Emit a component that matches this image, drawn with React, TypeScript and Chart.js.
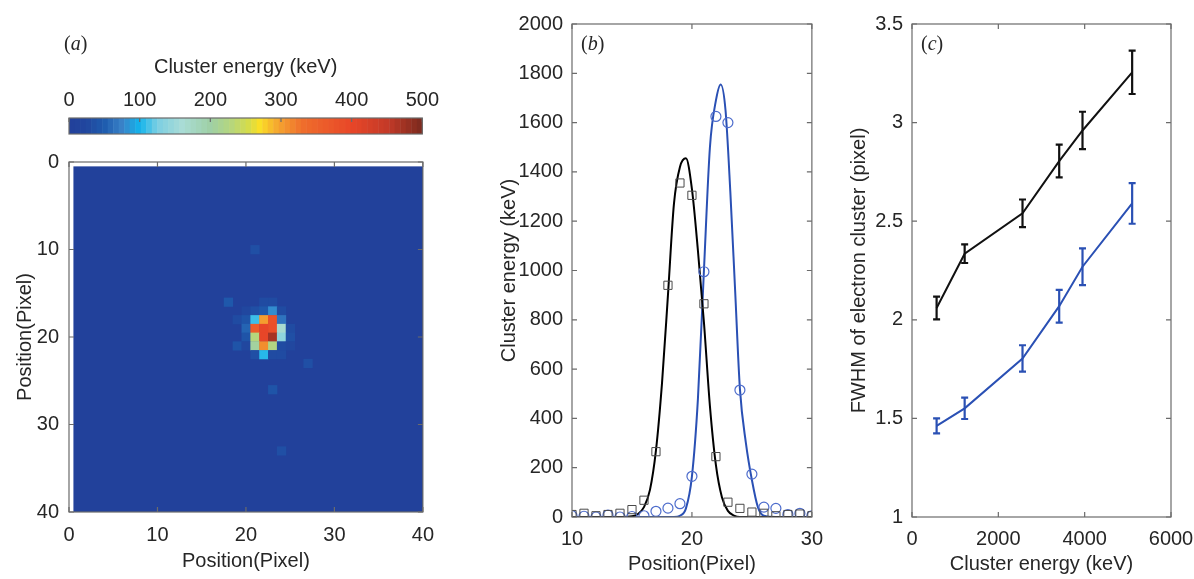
import React, { useEffect, useRef } from "react";
import { Chart, registerables } from "chart.js";
Chart.register(...registerables);

// ---------------- Panel (a): heat map ----------------
const HEAT_SIZE = 40;
const HEAT_BACKGROUND = 3;
const heatTicks = [0, 10, 20, 30, 40];
const cellCols = [21, 18, 22, 23, 20, 21, 22, 23, 24, 19, 20, 21, 22, 23, 24, 20, 21, 22, 23, 24, 25, 20, 21, 22, 23, 24, 25, 19, 20, 21, 22, 23, 24, 25, 21, 22, 23, 24, 27, 23, 24];
const cellRows = [10, 16, 16, 16, 17, 17, 17, 17, 17, 18, 18, 18, 18, 18, 18, 19, 19, 19, 19, 19, 19, 20, 20, 20, 20, 20, 20, 21, 21, 21, 21, 21, 21, 21, 22, 22, 22, 22, 23, 26, 33];
const cellValues = [35, 45, 30, 30, 25, 35, 45, 80, 30, 30, 40, 110, 300, 380, 65, 55, 360, 400, 385, 165, 30, 40, 230, 400, 470, 140, 35, 40, 25, 205, 310, 225, 30, 25, 35, 105, 30, 30, 35, 40, 35];

// colour map (value -> colour)
const cmapValues = [0, 25, 50, 75, 100, 125, 160, 200, 230, 255, 270, 295, 330, 400, 450, 500];
const cmapColors = ["#22409a", "#21479f", "#1e5cae", "#3a82c8", "#12b4ec", "#7ccfe2", "#a9dcd6", "#9fd0a6", "#b6d67c", "#d6dc48", "#fadf26", "#f5a630", "#ef6e2c", "#e84628", "#c43a28", "#7a2a1e"];
const colorbarTicks = [0, 100, 200, 300, 400, 500];
const COLORBAR_STEPS = 64;

// ---------------- Panel (b): profiles ----------------
const positions = [10, 11, 12, 13, 14, 15, 16, 17, 18, 19, 20, 21, 22, 23, 24, 25, 26, 27, 28, 29, 30];
const blackSquares = [10, 15, 5, 10, 15, 30, 68, 265, 940, 1355, 1305, 865, 245, 60, 35, 20, 15, 5, 10, 12, 5];
const blueCircles = [5, 3, 0, 8, 0, 2, 5, 23, 36, 54, 165, 995, 1625, 1600, 515, 174, 40, 35, 10, 15, 5];
const blackFitX = [10, 14, 15, 15.5, 16, 16.5, 17, 17.5, 18, 18.5, 19, 19.5, 20, 20.5, 21, 21.5, 22, 22.5, 23, 23.5, 24, 25, 30];
const blackFitY = [0, 0, 3, 12, 40, 110, 270, 540, 900, 1270, 1420, 1455, 1330, 1080, 790, 450, 210, 80, 25, 6, 0, 0, 0];
const blueFitX = [10, 18.5, 19, 19.5, 20, 20.5, 21, 21.5, 22, 22.4, 22.8, 23.2, 23.6, 24, 24.5, 25, 25.5, 26, 27, 30];
const blueFitY = [0, 0, 5, 35, 165, 480, 1000, 1500, 1690, 1755, 1650, 1320, 920, 520, 300, 150, 40, 5, 0, 0];

// ---------------- Panel (c): FWHM ----------------
const energies = [570, 1220, 2560, 3410, 3950, 5100];
const fwhmBlack = [2.06, 2.335, 2.54, 2.805, 2.96, 3.255];
const errBlack = [0.058, 0.047, 0.07, 0.083, 0.095, 0.11];
const fwhmBlue = [1.462, 1.551, 1.804, 2.069, 2.269, 2.59];
const errBlue = [0.038, 0.054, 0.067, 0.083, 0.093, 0.103];

const TEXT = "#262626";
const BOX = "#6b6b6b";
const BLUE = "#2a50b4";
const FONT = "'Liberation Sans', Arial, sans-serif";

function hexToRgb(h: string): number[] {
  const n = parseInt(h.slice(1), 16);
  return [(n >> 16) & 255, (n >> 8) & 255, n & 255];
}
function colormap(v: number): string {
  const t = Math.max(cmapValues[0], Math.min(cmapValues[cmapValues.length - 1], v));
  for (let i = 0; i < cmapValues.length - 1; i++) {
    if (t <= cmapValues[i + 1]) {
      const f = (t - cmapValues[i]) / (cmapValues[i + 1] - cmapValues[i]);
      const a = hexToRgb(cmapColors[i]);
      const b = hexToRgb(cmapColors[i + 1]);
      const c = a.map((av, k) => Math.round(av + (b[k] - av) * f));
      return `rgb(${c[0]},${c[1]},${c[2]})`;
    }
  }
  return cmapColors[cmapColors.length - 1];
}

function boxPlugin(sides: { top?: boolean; bottom?: boolean; left?: boolean; right?: boolean }, tickLen = 5) {
  return {
    id: "mbox",
    afterDraw(chart: any) {
      const { ctx, chartArea: a, scales } = chart;
      ctx.save();
      ctx.strokeStyle = BOX;
      ctx.lineWidth = 1.2;
      ctx.strokeRect(a.left, a.top, a.right - a.left, a.bottom - a.top);
      ctx.beginPath();
      const xs = scales.x;
      if (xs && xs.options.display !== false) {
        xs.ticks.forEach((t: any) => {
          const px = xs.getPixelForValue(t.value);
          if (sides.bottom) { ctx.moveTo(px, a.bottom); ctx.lineTo(px, a.bottom - tickLen); }
          if (sides.top) { ctx.moveTo(px, a.top); ctx.lineTo(px, a.top + tickLen); }
        });
      }
      const ys = scales.y;
      if (ys && ys.options.display !== false) {
        ys.ticks.forEach((t: any) => {
          const py = ys.getPixelForValue(t.value);
          if (sides.left) { ctx.moveTo(a.left, py); ctx.lineTo(a.left + tickLen, py); }
          if (sides.right) { ctx.moveTo(a.right, py); ctx.lineTo(a.right - tickLen, py); }
        });
      }
      ctx.stroke();
      ctx.restore();
    },
  };
}

const heatmapPlugin = {
  id: "heatmap",
  beforeDatasetsDraw(chart: any) {
    const { ctx, chartArea: a, scales } = chart;
    const x = scales.x, y = scales.y;
    ctx.save();
    ctx.beginPath();
    ctx.rect(a.left, a.top, a.right - a.left, a.bottom - a.top);
    ctx.clip();
    const cell = (x0: number, x1: number, y0: number, y1: number, color: string) => {
      const px0 = x.getPixelForValue(x0), px1 = x.getPixelForValue(x1);
      const py0 = y.getPixelForValue(y0), py1 = y.getPixelForValue(y1);
      ctx.fillStyle = color;
      ctx.fillRect(Math.min(px0, px1), Math.min(py0, py1), Math.abs(px1 - px0) + 0.4, Math.abs(py1 - py0) + 0.4);
    };
    cell(0.5, HEAT_SIZE + 0.5, 0.5, HEAT_SIZE + 0.5, colormap(HEAT_BACKGROUND));
    for (let i = 0; i < cellValues.length; i++) {
      cell(cellCols[i] - 0.5, cellCols[i] + 0.5, cellRows[i] - 0.5, cellRows[i] + 0.5, colormap(cellValues[i]));
    }
    ctx.restore();
  },
};

const colorbarPlugin = {
  id: "colorbar",
  beforeDatasetsDraw(chart: any) {
    const { ctx, chartArea: a, scales } = chart;
    const x = scales.x;
    const lo = colorbarTicks[0], hi = colorbarTicks[colorbarTicks.length - 1];
    const step = (hi - lo) / COLORBAR_STEPS;
    ctx.save();
    for (let i = 0; i < COLORBAR_STEPS; i++) {
      const v0 = lo + i * step;
      const p0 = x.getPixelForValue(v0), p1 = x.getPixelForValue(v0 + step);
      ctx.fillStyle = colormap(v0 + step / 2);
      ctx.fillRect(p0, a.top, p1 - p0 + 0.5, a.bottom - a.top);
    }
    ctx.restore();
  },
};

function errorBarPlugin(errs: number[][]) {
  return {
    id: "errorbars",
    afterDatasetsDraw(chart: any) {
      const { ctx, scales } = chart;
      const x = scales.x, y = scales.y;
      chart.data.datasets.forEach((ds: any, i: number) => {
        const e = errs[i];
        if (!e) return;
        ctx.save();
        ctx.strokeStyle = ds.borderColor;
        ctx.lineWidth = 2.2;
        ctx.beginPath();
        ds.data.forEach((p: any, j: number) => {
          const px = x.getPixelForValue(p.x);
          const top = y.getPixelForValue(p.y + e[j]);
          const bot = y.getPixelForValue(p.y - e[j]);
          ctx.moveTo(px, top); ctx.lineTo(px, bot);
          ctx.moveTo(px - 3.5, top); ctx.lineTo(px + 3.5, top);
          ctx.moveTo(px - 3.5, bot); ctx.lineTo(px + 3.5, bot);
        });
        ctx.stroke();
        ctx.restore();
      });
    },
  };
}

const tickFont = { family: FONT, size: 20 };
const titleFont = { family: FONT, size: 20 };
const fmt = (v: any) => String(v);

function baseScale(extra: any) {
  return {
    type: "linear",
    grid: { display: false, drawTicks: false },
    border: { display: false },
    ...extra,
    ticks: { color: TEXT, font: tickFont, callback: fmt, ...(extra.ticks || {}) },
    title: { color: TEXT, font: titleFont, display: true, ...(extra.title || {}) },
  };
}

const commonPlugins = { legend: { display: false }, tooltip: { enabled: false } };

export default function App() {
  const refCb = useRef<HTMLCanvasElement>(null);
  const refA = useRef<HTMLCanvasElement>(null);
  const refB = useRef<HTMLCanvasElement>(null);
  const refC = useRef<HTMLCanvasElement>(null);

  useEffect(() => {
    document.body.style.margin = "0";
    const charts: Chart[] = [];

    // colour bar
    charts.push(new Chart(refCb.current!, {
      type: "scatter",
      data: { datasets: [] },
      options: {
        responsive: false, animation: false,
        layout: { padding: { left: 69, right: 22, top: 15, bottom: 6 } },
        plugins: commonPlugins,
        scales: {
          x: baseScale({
            position: "top", min: 0, max: 500,
            ticks: { stepSize: 100, padding: 6 },
            title: { text: "Cluster energy (keV)", padding: { top: 0, bottom: 6 } },
            afterFit: (s: any) => { s.height = 63; },
          }),
          y: { type: "linear", display: false, min: 0, max: 1 },
        },
      } as any,
      plugins: [colorbarPlugin, boxPlugin({ top: true }, 4)],
    }));

    // heat map
    charts.push(new Chart(refA.current!, {
      type: "scatter",
      data: { datasets: [] },
      options: {
        responsive: false, animation: false,
        layout: { padding: { left: 0, right: 22, top: 15, bottom: 0 } },
        plugins: commonPlugins,
        scales: {
          x: baseScale({
            min: heatTicks[0], max: heatTicks[heatTicks.length - 1],
            ticks: { stepSize: 10, padding: 11 },
            title: { text: "Position(Pixel)", padding: { top: 4, bottom: 6 } },
            afterFit: (s: any) => { s.height = 67; },
          }),
          y: baseScale({
            min: heatTicks[0], max: heatTicks[heatTicks.length - 1], reverse: true,
            ticks: { stepSize: 10, padding: 10 },
            title: { text: "Position(Pixel)", padding: { top: 13, bottom: 4 } },
            afterFit: (s: any) => { s.width = 69; },
          }),
        },
      } as any,
      plugins: [heatmapPlugin, boxPlugin({ top: true, bottom: true, left: true, right: true })],
    }));

    // profiles
    const pts = (xs: number[], ys: number[]) => xs.map((x, i) => ({ x, y: ys[i] }));
    charts.push(new Chart(refB.current!, {
      type: "scatter",
      data: {
        datasets: [
          { data: pts(positions, blackSquares), pointStyle: "rect", radius: 5.8, borderColor: "#4a4a4a", backgroundColor: "rgba(0,0,0,0)", borderWidth: 1, order: 0 },
          { data: pts(positions, blueCircles), pointStyle: "circle", radius: 5, borderColor: "#4d6ccc", backgroundColor: "rgba(0,0,0,0)", borderWidth: 1.2, order: 0 },
          { data: pts(blackFitX, blackFitY), showLine: true, pointRadius: 0, borderColor: "#000000", borderWidth: 2, cubicInterpolationMode: "monotone", order: 1 },
          { data: pts(blueFitX, blueFitY), showLine: true, pointRadius: 0, borderColor: BLUE, borderWidth: 2, cubicInterpolationMode: "monotone", order: 1 },
        ],
      },
      options: {
        responsive: false, animation: false,
        layout: { padding: { left: 0, right: 20, top: 24, bottom: 0 } },
        plugins: commonPlugins,
        scales: {
          x: baseScale({
            min: 10, max: 30,
            ticks: { stepSize: 10, padding: 10 },
            title: { text: "Position(Pixel)", padding: { top: 4, bottom: 3 } },
            afterFit: (s: any) => { s.height = 62; },
          }),
          y: baseScale({
            min: 0, max: 2000,
            ticks: { stepSize: 200, padding: 9 },
            title: { text: "Cluster energy (keV)", padding: { top: 4, bottom: 4 } },
            afterFit: (s: any) => { s.width = 79; },
          }),
        },
      } as any,
      plugins: [boxPlugin({ top: true, bottom: true, left: true, right: true })],
    }));

    // FWHM
    charts.push(new Chart(refC.current!, {
      type: "scatter",
      data: {
        datasets: [
          { data: pts(energies, fwhmBlack), showLine: true, pointRadius: 0, borderColor: "#111111", borderWidth: 2, tension: 0 },
          { data: pts(energies, fwhmBlue), showLine: true, pointRadius: 0, borderColor: BLUE, borderWidth: 2, tension: 0 },
        ],
      },
      options: {
        responsive: false, animation: false,
        layout: { padding: { left: 0, right: 23, top: 24, bottom: 0 } },
        plugins: commonPlugins,
        scales: {
          x: baseScale({
            min: 0, max: 6000,
            ticks: { stepSize: 2000, padding: 10 },
            title: { text: "Cluster energy (keV)", padding: { top: 4, bottom: 3 } },
            afterFit: (s: any) => { s.height = 62; s.paddingLeft = 0; s.paddingRight = 0; },
          }),
          y: baseScale({
            min: 1, max: 3.5,
            ticks: { stepSize: 0.5, padding: 9 },
            title: { text: "FWHM of electron cluster (pixel)", padding: { top: 4, bottom: 4 } },
            afterFit: (s: any) => { s.width = 69; },
          }),
        },
      } as any,
      plugins: [errorBarPlugin([errBlack, errBlue]), boxPlugin({ top: true, bottom: true, left: true, right: true })],
    }));

    return () => charts.forEach((c) => c.destroy());
  }, []);

  const cv = (left: number, top: number, w: number, h: number) => ({
    position: "absolute" as const, left, top, width: w, height: h,
  });
  const label = (left: number, top: number) => ({
    position: "absolute" as const, left, top, fontFamily: "'Liberation Serif', 'Times New Roman', serif", fontSize: 20, color: TEXT, lineHeight: "23px",
  });

  return (
    <div style={{ position: "relative", width: 1194, height: 579, background: "#fff", overflow: "hidden" }}>
      <canvas ref={refCb} width={445} height={100} style={cv(0, 40, 445, 100)} />
      <canvas ref={refA} width={445} height={439} style={cv(0, 140, 445, 439)} />
      <canvas ref={refB} width={340} height={579} style={cv(493, 0, 340, 579)} />
      <canvas ref={refC} width={351} height={579} style={cv(843, 0, 351, 579)} />
      <div style={label(64, 32)}>(<i>a</i>)</div>
      <div style={label(581, 32)}>(<i>b</i>)</div>
      <div style={label(921, 32)}>(<i>c</i>)</div>
    </div>
  );
}
